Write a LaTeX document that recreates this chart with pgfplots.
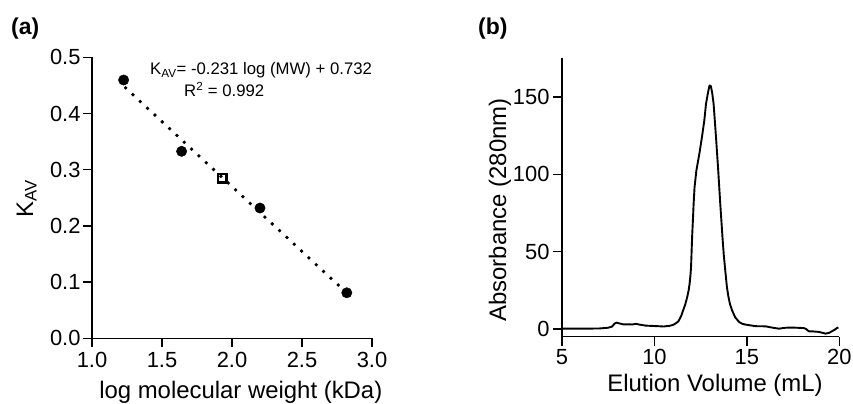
\documentclass[border=0pt]{standalone}
\usepackage{pgfplots}
\pgfplotsset{compat=1.18}
\usepackage{fontspec}
\setmainfont{Liberation Sans}
\begin{document}
\begin{tikzpicture}
\useasboundingbox (0bp,0bp) rectangle (853bp,404bp);
\pgfplotsset{
  every axis/.append style={
    scale only axis, anchor=south west,
    axis x line*=bottom, axis y line*=left,
    axis line style={line width=1.3bp, black},
    tick align=outside, major tick length=9bp,
    every tick/.style={line width=1.3bp, black},
    ticklabel style={font=\fontsize{22}{22}\selectfont},
    /pgf/number format/assume math mode=true,
    clip=false,
  }
}
% ---------- panel (a) ----------
\begin{axis}[at={(92bp,65.7bp)}, width=280bp, height=281bp,
  xmin=1, xmax=3, ymin=0, ymax=0.5,
  xtick={1,1.5,2,2.5,3}, ytick={0,0.1,0.2,0.3,0.4,0.5},
  xticklabel style={yshift=-1.5bp, /pgf/number format/fixed, /pgf/number format/fixed zerofill, /pgf/number format/precision=1},
  yticklabel style={xshift=1bp, /pgf/number format/fixed, /pgf/number format/fixed zerofill, /pgf/number format/precision=1}]
\addplot[black, line width=3.8bp, line cap=round, dash pattern=on 0pt off 10bp] coordinates {(1.24,0.4456) (2.80,0.0852)};
\addplot[only marks, mark=*, mark size=5.2bp, black] coordinates {(1.226,0.4596) (1.64,0.3327) (2.20,0.2318) (2.82,0.081)};
\addplot[only marks, mark=square, mark size=4.4bp, black, mark options={line width=2.4bp}] coordinates {(1.93,0.2847)};
\end{axis}
% ---------- panel (b) ----------
\begin{axis}[at={(562bp,67.3bp)}, width=277.3bp, height=278.4bp,
  xmin=5, xmax=20, ymin=-5, ymax=175,
  xtick={5,10,15,20}, ytick={0,50,100,150}]
\addplot[black, line width=1.9bp, line join=round] coordinates {
(5,0.2) (6,0.2) (7,0.3) (7.5,0.8) (7.7,1.5) (7.85,3.5) (7.95,4.1) (8.1,3.6) (8.3,3.0)
(8.5,3.0) (8.8,2.9) (9.0,3.3) (9.2,2.8) (9.5,2.2) (9.8,2.0) (10.2,1.8) (10.5,1.6)
(10.8,2.0) (11.0,2.6) (11.15,3.6) (11.3,5.0) (11.45,8.5) (11.55,12) (11.67,16)
(11.78,21) (11.85,25) (11.9,29) (11.95,35) (11.98,40) (12.01,50) (12.04,60) (12.08,70)
(12.12,81) (12.17,91.7) (12.27,102.5) (12.43,113.3) (12.57,124) (12.7,135) (12.79,145.6)
(12.9,153) (12.98,157.4) (13.05,157) (13.12,153) (13.2,145.6) (13.33,124) (13.45,102.5)
(13.56,81) (13.68,59.4) (13.75,48) (13.83,37.9) (13.92,27.1) (14.0,21) (14.08,16.4)
(14.2,12) (14.37,7.5) (14.58,4.5) (14.76,3.3) (14.94,2.8) (15.48,1.8) (16.02,1.7)
(16.4,0.8) (16.73,0.2) (17.1,0.8) (17.45,0.9) (18.08,0.6) (18.2,0.0) (18.35,-1.5)
(18.6,-1.6) (18.89,-1.9) (19.1,-2.5) (19.25,-3.0) (19.45,-2.5) (19.6,-1.5) (19.75,-0.5)
(19.87,0.6) (19.95,1.0)};
\end{axis}
% ---------- texts ----------
\node[anchor=base west, inner sep=0pt, font=\fontsize{23}{23}\selectfont\bfseries] at (11bp,369bp) {(a)};
\node[anchor=base west, inner sep=0pt, font=\fontsize{23}{23}\selectfont\bfseries] at (478bp,369bp) {(b)};
\node[anchor=base, inner sep=0pt, rotate=90, font=\fontsize{24}{24}\selectfont] at (33bp,205.5bp) {K\textsubscript{AV}};
\node[anchor=base, inner sep=0pt, font=\fontsize{24}{24}\selectfont] at (240.8bp,5.7bp) {log molecular weight (kDa)};
\node[anchor=base, inner sep=0pt, rotate=90, font=\fontsize{24}{24}\selectfont] at (506bp,194bp) {Absorbance (280nm)};
\node[anchor=base, inner sep=0pt, font=\fontsize{24}{24}\selectfont] at (715bp,12.3bp) {Elution Volume (mL)};
\node[anchor=base west, inner sep=0pt, font=\fontsize{16.8}{16.8}\selectfont] at (150bp,329bp) {K\textsubscript{AV}= -0.231 log (MW) + 0.732};
\node[anchor=base west, inner sep=0pt, font=\fontsize{16.8}{16.8}\selectfont] at (184bp,307.3bp) {R\textsuperscript{2} = 0.992};
\end{tikzpicture}
\end{document}
